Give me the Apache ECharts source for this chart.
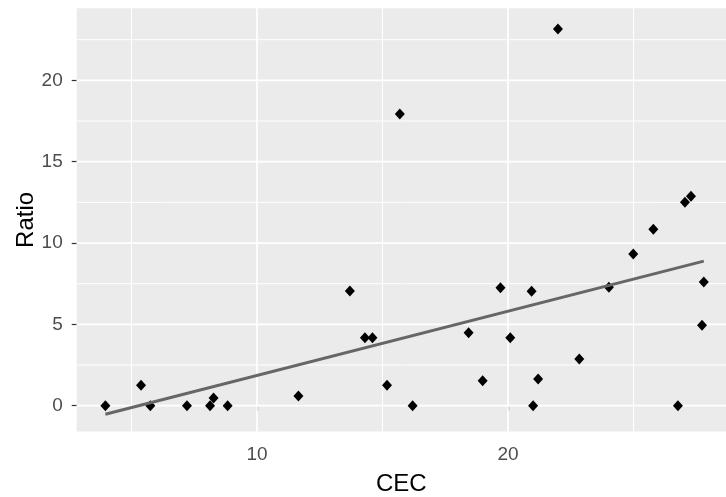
<!DOCTYPE html>
<html>
<head>
<meta charset="utf-8">
<script src="https://cdn.jsdelivr.net/npm/echarts@6/dist/echarts.min.js"></script>
<style>
  html, body { margin: 0; padding: 0; background: #ffffff; }
  #chart { width: 726px; height: 497px; }
</style>
</head>
<body>
<div id="chart"></div>
<script>
// Cation exchange capacity vs. ratio, one point per sample
const cec = [3.96, 5.38, 5.75, 7.21, 8.13, 8.27, 8.83, 11.65, 13.7, 14.3, 14.6, 15.18, 15.69, 16.2,
             18.43, 18.99, 19.7, 20.09, 20.94, 21.0, 21.2, 21.99, 22.84, 24.02, 24.99, 25.79,
             26.77, 27.05, 27.29, 27.73, 27.8];
const ratio = [0, 1.25, 0, 0, 0, 0.47, 0, 0.6, 7.05, 4.18, 4.18, 1.25, 17.93, 0,
               4.49, 1.54, 7.25, 4.18, 7.03, 0, 1.64, 23.15, 2.87, 7.28, 9.33, 10.84,
               0, 12.5, 12.88, 4.94, 7.6];

// Fitted linear trend, evaluated at the smallest and largest CEC
const fitX = [3.96, 27.8];
const fitY = [-0.53, 8.89];

// Axis ranges and breaks
const xRange = [2.817, 28.685];
const yRange = [-1.586, 24.43];
const xBreaks = [10, 20];
const xMinorBreaks = [5, 15, 25];
const yBreaks = [0, 5, 10, 15, 20];
const yMinorBreaks = [2.5, 7.5, 12.5, 17.5, 22.5];

const points = cec.map((x, i) => [x, ratio[i]]);
const fitLine = fitX.map((x, i) => [x, fitY[i]]);

// Panel grid: one straight segment per break, spanning the whole panel
function gridSeries(values, vertical, width) {
  return values.map(v => ({
    type: 'line',
    silent: true,
    z: 1,
    symbol: 'none',
    clip: true,
    lineStyle: { color: '#ffffff', width: width, opacity: 1 },
    emphasis: { disabled: true },
    data: vertical ? [[v, yRange[0]], [v, yRange[1]]] : [[xRange[0], v], [xRange[1], v]]
  }));
}

const chart = echarts.init(document.getElementById('chart'), null, { renderer: 'canvas' });

const font = '"Liberation Sans", Arial, sans-serif';

chart.setOption({
  animation: false,
  backgroundColor: '#ffffff',
  grid: {
    left: 76.7, right: 0, top: 8.3, bottom: 65.5,
    containLabel: false,
    outerBoundsMode: 'none',
    show: true, backgroundColor: '#EBEBEB', borderWidth: 0
  },
  xAxis: {
    type: 'value',
    min: xRange[0], max: xRange[1],
    name: 'CEC', nameLocation: 'middle', nameGap: 41,
    nameTextStyle: { color: '#000000', fontSize: 24, fontFamily: font },
    axisLine: { show: false },
    axisTick: { show: true, customValues: xBreaks, length: 5, lineStyle: { color: '#333333', width: 1.2 } },
    axisLabel: { customValues: xBreaks, color: '#4D4D4D', fontSize: 19, fontFamily: font, margin: 14 },
    splitLine: { show: false }
  },
  yAxis: {
    type: 'value',
    min: yRange[0], max: yRange[1],
    name: 'Ratio', nameLocation: 'middle', nameGap: 38,
    nameMoveOverlap: false,
    nameTextStyle: { color: '#000000', fontSize: 24, fontFamily: font },
    axisLine: { show: false },
    axisTick: { show: true, customValues: yBreaks, length: 5, lineStyle: { color: '#333333', width: 1.2 } },
    axisLabel: { customValues: yBreaks, color: '#4D4D4D', fontSize: 19, fontFamily: font, margin: 14, padding: [5, 0, 0, 0] },
    splitLine: { show: false }
  },
  series: []
    .concat(gridSeries(xMinorBreaks, true, 1))
    .concat(gridSeries(yMinorBreaks, false, 1))
    .concat(gridSeries(xBreaks, true, 1.7))
    .concat(gridSeries(yBreaks, false, 1.7))
    .concat([
      {
        type: 'scatter',
        data: points,
        z: 3,
        symbol: 'diamond',
        symbolSize: [10, 11],
        itemStyle: { color: '#000000', opacity: 1 }
      },
      {
        type: 'line',
        data: fitLine,
        z: 4,
        symbol: 'none',
        lineStyle: { color: '#666666', width: 3 }
      }
    ])
});
</script>
</body>
</html>
